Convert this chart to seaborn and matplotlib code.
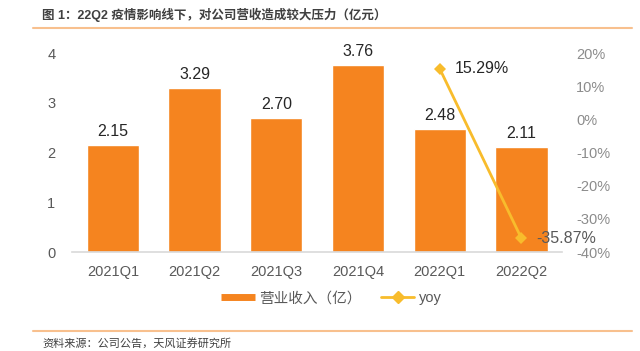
import matplotlib.pyplot as plt
import seaborn as sns
import pandas as pd
from matplotlib.lines import Line2D

quarters = ["2021Q1", "2021Q2", "2021Q3", "2021Q4", "2022Q1", "2022Q2"]
revenue = [2.15, 3.29, 2.70, 3.76, 2.48, 2.11]
yoy_quarters = ["2022Q1", "2022Q2"]
yoy = [15.29, -35.87]

bar_color = "#F5841F"
line_color = "#F8BC2C"

sns.set_style("white")
plt.rcParams["font.family"] = ["Liberation Sans", "Noto Sans CJK SC", "DejaVu Sans"]

fig = plt.figure(figsize=(6.4, 3.51), dpi=100)
ax = fig.add_axes([0.1125, 0.282, 0.766, 0.567])

df = pd.DataFrame({"quarter": quarters, "revenue": revenue})
sns.barplot(data=df, x="quarter", y="revenue", color=bar_color, width=0.64,
            saturation=1, ax=ax)
ax.set_ylim(0, 4)
ax.set_yticks([0, 1, 2, 3, 4])
ax.set_xlabel("")
ax.set_ylabel("")
for s in ["top", "right", "left"]:
    ax.spines[s].set_visible(False)
ax.spines["bottom"].set_color("#d9d9d9")
ax.spines["bottom"].set_linewidth(1.2)
ax.tick_params(axis="both", length=0, labelsize=10.5, colors="#595959")
ax.tick_params(axis="y", pad=12)
ax.tick_params(axis="x", pad=9)
for i, v in enumerate(revenue):
    ax.text(i, v + 0.12, f"{v:.2f}", ha="center", va="bottom", fontsize=11.5,
            color="#262626")

ax2 = ax.twinx()
xpos = [quarters.index(q) for q in yoy_quarters]
sns.lineplot(x=xpos, y=yoy, color=line_color, marker="D", markersize=6,
             markeredgewidth=0, linewidth=2, ax=ax2)
ax2.set_ylim(-40, 20)
ax2.set_yticks([-40, -30, -20, -10, 0, 10, 20])
ax2.set_yticklabels([f"{t}%" for t in [-40, -30, -20, -10, 0, 10, 20]])
for s in ["top", "right", "left", "bottom"]:
    ax2.spines[s].set_visible(False)
ax2.tick_params(axis="y", length=0, labelsize=10.5, colors="#8c8c8c", pad=10)
ax2.text(xpos[0] + 0.18, yoy[0], f"{yoy[0]:.2f}%", ha="left", va="center",
         fontsize=11.5, color="#262626")
ax2.text(xpos[1] + 0.18, yoy[1], f"{yoy[1]:.2f}%", ha="left", va="center",
         fontsize=11.5, color="#595959")
ax.set_xlim(-0.5, 5.5)

handles = [Line2D([0], [0], color=bar_color, lw=5, solid_capstyle="butt"),
           Line2D([0], [0], color=line_color, marker="D", markersize=6, lw=2)]
fig.legend(handles, ["营业收入（亿）", "yoy"], loc="center",
           bbox_to_anchor=(0.518, 0.15), ncol=2, frameon=False, fontsize=10.5,
           handlelength=2.3, handletextpad=0.3, columnspacing=1.3,
           labelcolor="#595959")

fig.text(0.066, 0.957, "图 1：22Q2 疫情影响线下，对公司营收造成较大压力（亿元）",
         fontsize=9, fontweight="bold", color="#404040", va="center")
fig.add_artist(Line2D([0.052, 0.988], [0.921, 0.921], color="#F8C08E", lw=1.5))
fig.add_artist(Line2D([0.052, 0.988], [0.057, 0.057], color="#F8C08E", lw=1.5))
fig.text(0.066, 0.022, "资料来源：公司公告，天风证券研究所", fontsize=8,
         color="#404040", va="center")

fig.savefig("out.png", dpi=100)
